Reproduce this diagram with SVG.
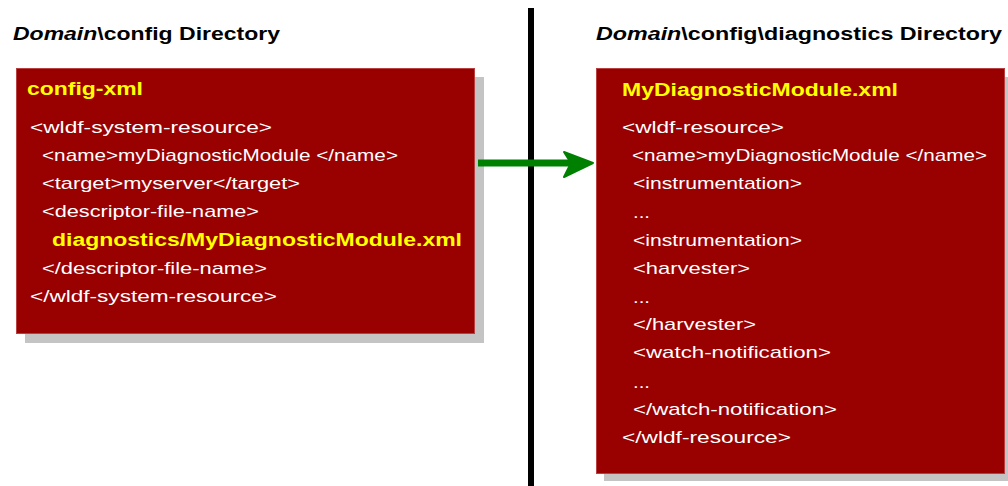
<svg xmlns="http://www.w3.org/2000/svg" width="1008" height="486" viewBox="0 0 1008 486">
<style>
.title{font-family:"Liberation Sans",Arial,sans-serif;font-size:18px;font-weight:bold;fill:#000}
.it{font-style:italic}
.box{fill:#990000;stroke:#b84040;stroke-width:1}
.shadow{fill:#c4c4c4}
.hd{font-family:"Liberation Sans",Arial,sans-serif;font-size:18px;font-weight:bold;fill:#ffff00}
.ln{font-family:"Liberation Sans",Arial,sans-serif;font-size:17px;fill:#ffffff}
.yb{font-family:"Liberation Sans",Arial,sans-serif;font-size:18px;font-weight:bold;fill:#ffff00}
</style>
<rect width="1008" height="486" fill="#ffffff"/>
<g id="divider">
<rect x="528" y="8" width="6" height="478" fill="#000"/>
</g>
<g id="title-left">
<text class="title" x="13" y="40" textLength="267" lengthAdjust="spacingAndGlyphs"><tspan class="it">Domain</tspan>\config Directory</text>
</g>
<g id="title-right">
<text class="title" x="596" y="40" textLength="406" lengthAdjust="spacingAndGlyphs"><tspan class="it">Domain</tspan>\config\diagnostics Directory</text>
</g>
<g id="config-xml">
<rect class="shadow" x="25" y="77" width="459" height="266"/>
<rect class="box" x="16.5" y="68.5" width="458" height="265"/>
<text class="hd" x="27" y="95" textLength="116" lengthAdjust="spacingAndGlyphs">config-xml</text>
<text class="ln" x="30" y="133" textLength="242" lengthAdjust="spacingAndGlyphs">&lt;wldf-system-resource&gt;</text>
<text class="ln" x="42" y="161" textLength="356" lengthAdjust="spacingAndGlyphs">&lt;name&gt;myDiagnosticModule &lt;/name&gt;</text>
<text class="ln" x="42" y="189" textLength="258" lengthAdjust="spacingAndGlyphs">&lt;target&gt;myserver&lt;/target&gt;</text>
<text class="ln" x="42" y="217" textLength="217" lengthAdjust="spacingAndGlyphs">&lt;descriptor-file-name&gt;</text>
<text class="yb" x="52" y="246" textLength="410" lengthAdjust="spacingAndGlyphs">diagnostics/MyDiagnosticModule.xml</text>
<text class="ln" x="42" y="274" textLength="225" lengthAdjust="spacingAndGlyphs">&lt;/descriptor-file-name&gt;</text>
<text class="ln" x="30" y="302" textLength="247" lengthAdjust="spacingAndGlyphs">&lt;/wldf-system-resource&gt;</text>
</g>
<g id="diagnostic-module-xml">
<rect class="shadow" x="604" y="77" width="404" height="404"/>
<rect class="box" x="596.5" y="68.5" width="408" height="405"/>
<text class="hd" x="622" y="96" textLength="276" lengthAdjust="spacingAndGlyphs">MyDiagnosticModule.xml</text>
<text class="ln" x="622" y="133" textLength="162" lengthAdjust="spacingAndGlyphs">&lt;wldf-resource&gt;</text>
<text class="ln" x="632" y="161" textLength="355" lengthAdjust="spacingAndGlyphs">&lt;name&gt;myDiagnosticModule &lt;/name&gt;</text>
<text class="ln" x="633" y="189" textLength="169" lengthAdjust="spacingAndGlyphs">&lt;instrumentation&gt;</text>
<text class="ln" x="633" y="218" textLength="17" lengthAdjust="spacingAndGlyphs">...</text>
<text class="ln" x="633" y="246" textLength="169" lengthAdjust="spacingAndGlyphs">&lt;instrumentation&gt;</text>
<text class="ln" x="633" y="274" textLength="117" lengthAdjust="spacingAndGlyphs">&lt;harvester&gt;</text>
<text class="ln" x="633" y="303" textLength="17" lengthAdjust="spacingAndGlyphs">...</text>
<text class="ln" x="633" y="330" textLength="123" lengthAdjust="spacingAndGlyphs">&lt;/harvester&gt;</text>
<text class="ln" x="633" y="358" textLength="198" lengthAdjust="spacingAndGlyphs">&lt;watch-notification&gt;</text>
<text class="ln" x="633" y="388" textLength="17" lengthAdjust="spacingAndGlyphs">...</text>
<text class="ln" x="633" y="415" textLength="204" lengthAdjust="spacingAndGlyphs">&lt;/watch-notification&gt;</text>
<text class="ln" x="622" y="443" textLength="169" lengthAdjust="spacingAndGlyphs">&lt;/wldf-resource&gt;</text>
</g>
<g id="connectors">
<path d="M478,159.5 L572,159.5 L572,166.5 L478,166.5 Z" fill="#008000"/>
<path d="M564,152 L593,163 L564,177 L571,163 Z" fill="#008000" stroke="#008000" stroke-width="2" stroke-linejoin="round"/>
</g>
</svg>
